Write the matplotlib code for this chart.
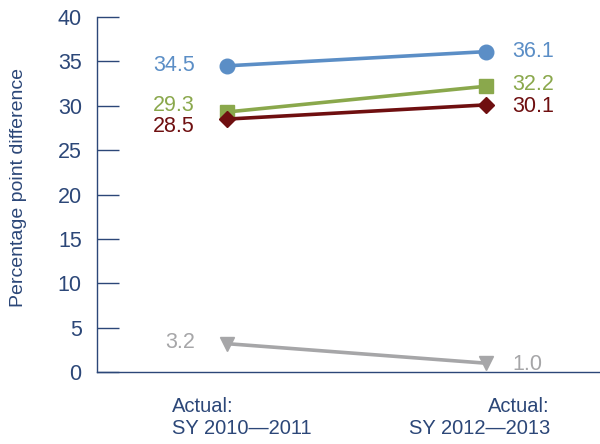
import matplotlib
matplotlib.use("Agg")
import matplotlib.pyplot as plt
from matplotlib.transforms import offset_copy

plt.rcParams["font.family"] = ["Liberation Sans", "DejaVu Sans"]

NAVY = "#2c4778"

periods = ["Actual:\nSY 2010\u20142011", "Actual:\nSY 2012\u20142013"]
x_pos = [0, 1]
series_blue = [34.5, 36.1]
series_green = [29.3, 32.2]
series_red = [28.5, 30.1]
series_gray = [3.2, 1.0]
y_ticks = [0, 5, 10, 15, 20, 25, 30, 35, 40]

# values, colour, marker, marker size, label y-nudge (left, right) in points
styles = [
    (series_blue, "#5b8ec6", "o", 10.5, 0, 0),
    (series_green, "#8aa84c", "s", 10.0, 5, 1.5),
    (series_red, "#6f0f10", "D", 8.5, -5, -1),
    (series_gray, "#a6a6a8", "v", 10.5, 1, -1),
]

fig = plt.figure(figsize=(6.0, 4.44), dpi=100)
ax = fig.add_axes([0.1617, 0.162, 0.8383, 0.7997])

for vals, color, marker, ms, dy_l, dy_r in styles:
    ax.plot(x_pos, vals, color=color, lw=2.6, marker=marker, ms=ms,
            markeredgecolor=color, zorder=3, clip_on=False)
    ax.text(x_pos[0], vals[0], f"{vals[0]:.1f}", color=color, fontsize=15.5,
            ha="right", va="center",
            transform=offset_copy(ax.transData, fig=fig, x=-23, y=dy_l, units="points"))
    ax.text(x_pos[1], vals[1], f"{vals[1]:.1f}", color=color, fontsize=15.5,
            ha="left", va="center",
            transform=offset_copy(ax.transData, fig=fig, x=19, y=dy_r, units="points"))

ax.set_xlim(-0.502, 1.44)
ax.set_ylim(0, 40)
ax.set_yticks(y_ticks)
ax.tick_params(axis="y", direction="in", length=16, width=1.0, colors=NAVY,
               labelsize=15.5, pad=11)
ax.set_xticks([])
for s in ["top", "right"]:
    ax.spines[s].set_visible(False)
for s in ["left", "bottom"]:
    ax.spines[s].set_color(NAVY)
    ax.spines[s].set_linewidth(1.0)

ax.set_ylabel("Percentage point difference", fontsize=14, color=NAVY)
ax.yaxis.set_label_coords(-0.139, 0.521)

# x category labels under the axis
lab_tr = ax.get_xaxis_transform()
ax.text(-0.212, -0.07, periods[0], transform=lab_tr, ha="left", va="top",
        multialignment="left", fontsize=14.5, color=NAVY, linespacing=1.2)
ax.text(1.247, -0.07, periods[1], transform=lab_tr, ha="right", va="top",
        multialignment="right", fontsize=14.5, color=NAVY, linespacing=1.2)

fig.savefig("out.png", dpi=100, facecolor="white")
